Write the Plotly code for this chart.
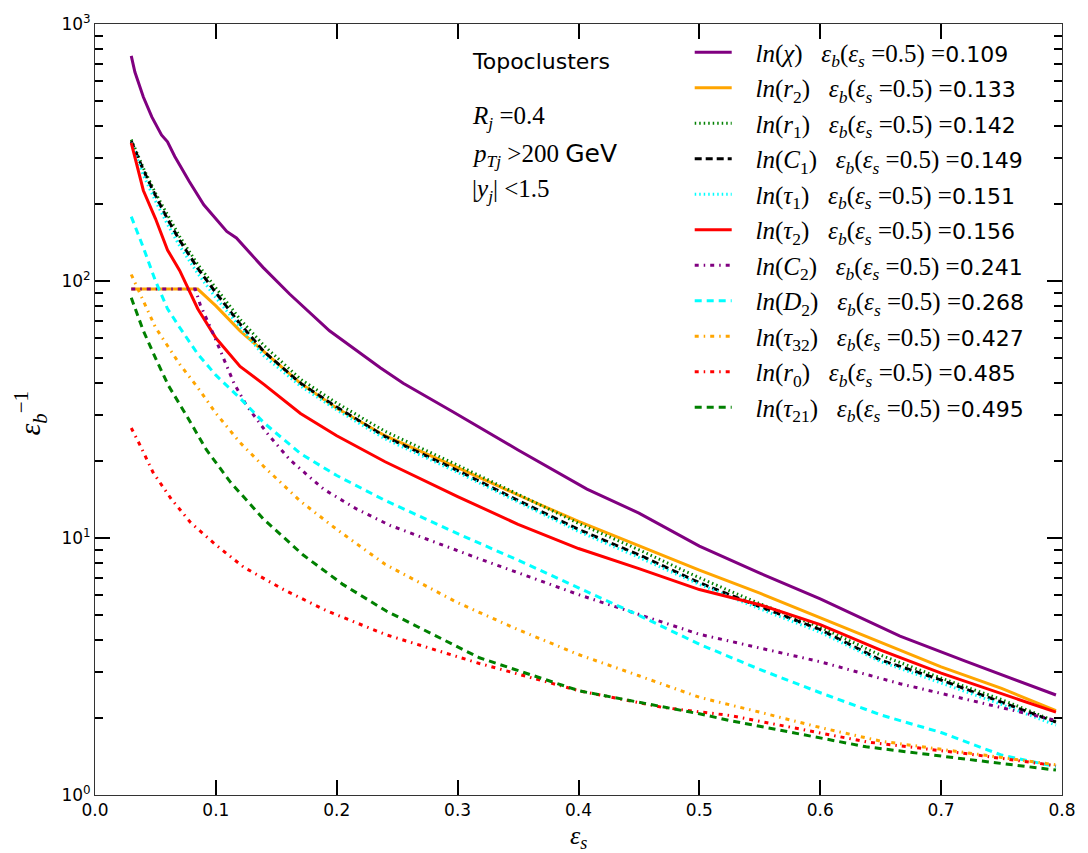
import plotly.graph_objects as go

# ---------------- data ----------------
chi_x = [0.03, 0.033, 0.04, 0.047, 0.055, 0.06, 0.066, 0.078, 0.09, 0.102, 0.109, 0.117,
         0.139, 0.161, 0.194, 0.236, 0.255, 0.296, 0.35, 0.407, 0.45, 0.5, 0.55, 0.6,
         0.666, 0.72, 0.795]
chi_y = [752, 650, 520, 435, 370, 348, 305, 244, 198, 171, 156, 147,
         113, 89, 64, 46, 40, 31, 22, 15.5, 12.5, 9.3, 7.3, 5.8,
         4.15, 3.32, 2.45]

grid_x = [0.03, 0.04, 0.05, 0.06, 0.07, 0.085, 0.1, 0.12, 0.14, 0.17, 0.2, 0.24,
          0.3, 0.35, 0.4, 0.45, 0.5, 0.55, 0.6, 0.65, 0.7, 0.75, 0.795]

r2_y = [93, 93, 93, 93, 93, 93, 80, 64, 53, 40, 32, 25,
        18.8, 14.7, 11.6, 9.3, 7.5, 6.1, 4.9, 3.92, 3.15, 2.6, 2.13]
r1_y = [355, 275, 220, 180, 149, 116, 94, 71, 56, 41.5, 33.5, 26,
        19.2, 14.8, 11.4, 9.0, 7.0, 5.55, 4.5, 3.5, 2.85, 2.35, 1.93]
c1_y = [350, 270, 215, 174, 144, 112, 90, 68, 53, 40, 32.3, 24.8,
        18.3, 14.0, 10.8, 8.6, 6.7, 5.4, 4.4, 3.35, 2.8, 2.3, 1.92]
tau1_y = [345, 258, 205, 166, 137, 107, 86, 66, 51, 39, 31.5, 24.3,
          18.0, 13.8, 10.6, 8.4, 6.6, 5.3, 4.3, 3.3, 2.72, 2.25, 1.87]
tau2_y = [345, 225, 175, 132, 110, 78, 60, 46.5, 39.5, 30.5, 25, 19.8,
          14.5, 11.3, 9.1, 7.6, 6.3, 5.5, 4.6, 3.66, 2.98, 2.48, 2.10]
d2_y = [178, 135, 100, 78, 66, 52, 43, 35, 28, 21.3, 17.5, 14.0,
        10.4, 8.2, 6.4, 5.0, 3.86, 3.08, 2.5, 2.05, 1.75, 1.43, 1.29]
tau32_y = [106, 83, 66, 56, 47.5, 38.5, 30.6, 23.5, 18.9, 13.9, 10.8, 7.9,
           5.6, 4.4, 3.52, 2.91, 2.40, 2.10, 1.83, 1.62, 1.51, 1.40, 1.31]

c2_x = [0.03, 0.083, 0.087, 0.098, 0.115, 0.125, 0.142, 0.161, 0.189, 0.216, 0.244,
        0.318, 0.401, 0.5, 0.525, 0.6, 0.666, 0.73, 0.795]
c2_y = [93, 93, 81, 62, 40, 33, 25.7, 20.2, 15.5, 13.0, 11.2,
        8.3, 6.0, 4.22, 3.97, 3.3, 2.71, 2.3, 1.95]

r0_x = [0.03, 0.037, 0.048, 0.063, 0.079, 0.1, 0.123, 0.156, 0.192, 0.241, 0.318,
        0.401, 0.47, 0.525, 0.638, 0.72, 0.795]
r0_y = [26.8, 23.1, 18.0, 14.2, 11.5, 9.4, 7.7, 6.3, 5.2, 4.2, 3.25,
        2.54, 2.19, 2.04, 1.61, 1.45, 1.30]

tau21_x = [0.03, 0.04, 0.051, 0.061, 0.076, 0.092, 0.112, 0.139, 0.172, 0.205, 0.241,
           0.318, 0.401, 0.5, 0.525, 0.638, 0.72, 0.795]
tau21_y = [86, 64, 49, 39, 29.8, 22.1, 16.5, 11.9, 8.6, 6.6, 5.2,
           3.42, 2.54, 2.07, 1.95, 1.54, 1.38, 1.25]

names = ["<i>ln</i>(<i>χ</i>)", "<i>ln</i>(<i>r</i><sub>2</sub>)", "<i>ln</i>(<i>r</i><sub>1</sub>)",
         "<i>ln</i>(<i>C</i><sub>1</sub>)", "<i>ln</i>(<i>τ</i><sub>1</sub>)", "<i>ln</i>(<i>τ</i><sub>2</sub>)",
         "<i>ln</i>(<i>C</i><sub>2</sub>)", "<i>ln</i>(<i>D</i><sub>2</sub>)", "<i>ln</i>(<i>τ</i><sub>32</sub>)",
         "<i>ln</i>(<i>r</i><sub>0</sub>)", "<i>ln</i>(<i>τ</i><sub>21</sub>)"]
eb_values = ["0.109", "0.133", "0.142", "0.149", "0.151", "0.156", "0.241", "0.268", "0.427", "0.485", "0.495"]

x_ticks = [0.0, 0.1, 0.2, 0.3, 0.4, 0.5, 0.6, 0.7, 0.8]
x_ticktext = ["0.0", "0.1", "0.2", "0.3", "0.4", "0.5", "0.6", "0.7", "0.8"]
y_ticks = [1, 10, 100, 1000]
y_ticktext = ["10<sup>0</sup>", "10<sup>1</sup>", "10<sup>2</sup>", "10<sup>3</sup>"]
y_minor = [m * 10 ** e for e in range(0, 3) for m in range(2, 10)]

# ---------------- styling ----------------
series = [
    (chi_x, chi_y, "#800080", "solid"),
    (grid_x, r2_y, "#FFA500", "solid"),
    (grid_x, r1_y, "#008000", "1.5px,3px"),
    (grid_x, c1_y, "#000000", "7px,4px"),
    (grid_x, tau1_y, "#00FFFF", "1.5px,3px"),
    (grid_x, tau2_y, "#FF0000", "solid"),
    (c2_x, c2_y, "#800080", "4px,5px,1.5px,5px"),
    (grid_x, d2_y, "#00FFFF", "7px,5px"),
    (grid_x, tau32_y, "#FFA500", "4px,5px,1.5px,5px"),
    (r0_x, r0_y, "#FF0000", "4px,5px,1.5px,5px"),
    (tau21_x, tau21_y, "#008000", "7px,5px"),
]

NB = "\u00a0"
fig = go.Figure()
for i, ((xs, ys, col, dash), nm, ev) in enumerate(zip(series, names, eb_values)):
    label = (NB * 3 + nm + NB * 3 + "<i>ε</i><sub><i>b</i></sub>(<i>ε</i><sub><i>s</i></sub>" + NB
             + "=0.5)" + NB + "="
             + "<span style=\"font-family:DejaVu Sans;font-size:22px\">" + ev + "</span>")
    fig.add_trace(go.Scatter(
        x=xs, y=ys, mode="lines", name=label, legendgroup="g%d" % i,
        line=dict(color=col, width=3, dash=dash),
    ))

axis_common = dict(
    showline=True, linecolor="#333333", linewidth=1, mirror="allticks",
    ticks="inside", tickcolor="black", tickwidth=2, showgrid=False, zeroline=False,
    tickfont=dict(family="DejaVu Sans", size=17, color="black"),
)

fig.update_xaxes(range=[0, 0.8], tickmode="array", tickvals=x_ticks, ticktext=x_ticktext,
                 ticklen=15, **axis_common)
fig.update_yaxes(type="log", range=[0, 3], tickmode="array", tickvals=y_ticks, ticktext=y_ticktext,
                 ticklen=15,
                 minor=dict(ticks="inside", tickmode="array", tickvals=y_minor, ticklen=8,
                            tickwidth=1.5, tickcolor="black", showgrid=False),
                 **axis_common)

annots = [
    dict(x=0.388, y=0.952, text="Topoclusters", font=dict(family="DejaVu Sans", size=22, color="black")),
    dict(x=0.388, y=0.879, text="<i>R</i><sub><i>j</i></sub> =0.4",
         font=dict(family="Liberation Serif", size=25, color="black")),
    dict(x=0.388, y=0.830,
         text="<i>p</i><sub><i>Tj</i></sub> >200 <span style=\"font-family:DejaVu Sans\">GeV</span>",
         font=dict(family="Liberation Serif", size=25, color="black")),
    dict(x=0.388, y=0.784, text="|<i>y</i><sub><i>j</i></sub>| <1.5",
         font=dict(family="Liberation Serif", size=25, color="black")),
]
for a in annots:
    fig.add_annotation(xref="paper", yref="paper", xanchor="left", yanchor="middle",
                       showarrow=False, **a)

fig.add_annotation(xref="paper", yref="paper", x=0.5, y=-0.054, xanchor="center", yanchor="middle",
                   text="<i>ε</i><sub><i>s</i></sub>", showarrow=False, borderpad=0,
                   font=dict(family="Liberation Serif", size=26, color="black"))
fig.add_annotation(xref="paper", yref="paper", x=-0.067, y=0.495, xanchor="center", yanchor="middle",
                   text="<i>ε</i><sub><i>b</i></sub><sup>−1</sup>", showarrow=False, textangle=-90,
                   font=dict(family="Liberation Serif", size=30, color="black"))

fig.update_layout(
    width=1088, height=853,
    margin=dict(l=95, r=26, t=18, b=58),
    paper_bgcolor="white", plot_bgcolor="white",
    showlegend=True,
    legend=dict(x=0.615, y=0.993, xanchor="left", yanchor="top", bgcolor="rgba(0,0,0,0)",
                font=dict(family="Liberation Serif", size=25, color="black"),
                itemwidth=37, tracegroupgap=0),
)

fig.write_html("out.html")
